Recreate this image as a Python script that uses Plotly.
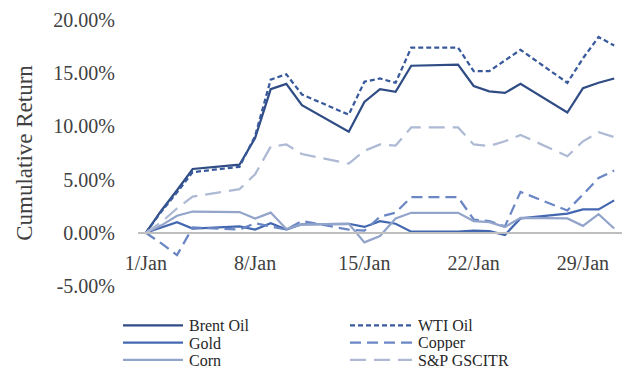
import plotly.graph_objects as go

dates = ["2019-01-01", "2019-01-02", "2019-01-03", "2019-01-04", "2019-01-07",
         "2019-01-08", "2019-01-09", "2019-01-10", "2019-01-11", "2019-01-14",
         "2019-01-15", "2019-01-16", "2019-01-17", "2019-01-18", "2019-01-21",
         "2019-01-22", "2019-01-23", "2019-01-24", "2019-01-25", "2019-01-28",
         "2019-01-29", "2019-01-30", "2019-01-31"]

brent = [0, 2.1, 4.0, 6.0, 6.4, 8.9, 13.5, 14.0, 12.0, 9.5, 12.3, 13.5, 13.25,
         15.7, 15.8, 13.8, 13.3, 13.15, 14.0, 11.3, 13.6, 14.1, 14.5]
wti = [0, 2.0, 3.8, 5.7, 6.2, 9.1, 14.4, 14.9, 13.0, 11.1, 14.2, 14.5, 14.1,
       17.4, 17.4, 15.2, 15.2, 16.2, 17.2, 14.1, 16.4, 18.4, 17.6]
gold = [0, 0.5, 1.0, 0.4, 0.6, 0.3, 0.9, 0.3, 0.8, 0.85, 0.55, 1.1, 0.85,
        0.1, 0.1, 0.2, 0.15, -0.2, 1.35, 1.8, 2.2, 2.2, 3.05]
copper = [0, -1.0, -2.1, 0.5, 0.3, 0.9, 0.6, 0.3, 1.1, 0.3, 0.2, 1.5, 1.9,
          3.35, 3.35, 1.25, 1.1, 0.6, 3.85, 2.1, 3.6, 5.15, 5.85]
corn = [0, 0.7, 1.6, 2.0, 1.95, 1.35, 1.9, 0.35, 0.8, 0.85, -0.9, -0.3, 1.35,
        1.88, 1.88, 1.1, 1.0, 0.55, 1.4, 1.35, 0.65, 1.75, 0.4]
spgsci = [0, 1.0, 2.3, 3.4, 4.1, 5.5, 8.1, 8.3, 7.4, 6.5, 7.7, 8.3, 8.2,
          9.9, 9.9, 8.3, 8.15, 8.6, 9.2, 7.2, 8.6, 9.45, 9.0]

series_names = ["Brent Oil", "WTI Oil", "Gold", "Copper", "Corn", "S&P GSCITR"]
series_values = [brent, wti, gold, copper, corn, spgsci]

x_tick_vals = ["2019-01-01", "2019-01-08", "2019-01-15", "2019-01-22", "2019-01-29"]
x_tick_text = ["1/Jan", "8/Jan", "15/Jan", "22/Jan", "29/Jan"]
y_tick_vals = [-5, 0, 5, 10, 15, 20]
y_tick_text = ["-5.00%", "0.00%", "5.00%", "10.00%", "15.00%", "20.00%"]

colors = ["#2F4C85", "#385A9C", "#4468B0", "#6A86C4", "#93A4CB", "#AEBAD4"]
dashes = ["solid", "5px,3px", "solid", "11px,6px", "solid", "16px,8px"]

FONT = "Liberation Serif"
TXT = "#404040"

fig = go.Figure()
for name, vals, c, d in zip(series_names, series_values, colors, dashes):
    fig.add_trace(go.Scatter(x=dates, y=vals, name=name, mode="lines",
                             line=dict(color=c, width=2.25, dash=d),
                             showlegend=False, hoverinfo="skip"))

# manual legend (two columns, row-major), positioned in pixels relative to plot area
L, B = 138, 285.7
row_y = [325, 342.3, 359.5]
col_line = [(123, 183), (350, 412)]
col_text = [188, 417]
for i, (name, c, d) in enumerate(zip(series_names, colors, dashes)):
    r, col = divmod(i, 2)
    yy = -(row_y[r] - B)
    fig.add_shape(type="line", xref="paper", yref="paper", xsizemode="pixel",
                  ysizemode="pixel", xanchor=0, yanchor=0,
                  x0=col_line[col][0] - L, x1=col_line[col][1] - L, y0=yy, y1=yy,
                  line=dict(color=c, width=2.25, dash=d))
    fig.add_annotation(xref="paper", yref="paper", x=0, y=0,
                       xshift=col_text[col] - L, yshift=yy,
                       xanchor="left", yanchor="middle", showarrow=False,
                       height=16, valign="middle", borderpad=0,
                       text=name, font=dict(family=FONT, size=16, color="#262626"))

fig.update_layout(
    width=628, height=369,
    margin=dict(l=138, r=6, t=19.5, b=83.3),
    paper_bgcolor="white", plot_bgcolor="white",
    font=dict(family=FONT, color=TXT),
    showlegend=False,
    xaxis=dict(type="date", range=["2018-12-31 12:00", "2019-01-31 12:00"],
               tickvals=x_tick_vals, ticktext=x_tick_text,
               tickfont=dict(family=FONT, size=20, color=TXT),
               showgrid=False, zeroline=False, showline=True,
               linecolor="#BFBFBF", linewidth=1.5,
               anchor="free", position=0.2,
               ticks="outside", ticklen=12, tickcolor="rgba(0,0,0,0)"),
    yaxis=dict(range=[-5, 20], tickvals=y_tick_vals, ticktext=y_tick_text,
               tickfont=dict(family=FONT, size=20, color=TXT),
               showgrid=False, zeroline=False, showline=False,
               ticks="outside", ticklen=18, tickcolor="rgba(0,0,0,0)",
               title=dict(text="Cumulative Return", standoff=14,
                          font=dict(family=FONT, size=23, color=TXT))),
)

fig.write_html("out.html")
